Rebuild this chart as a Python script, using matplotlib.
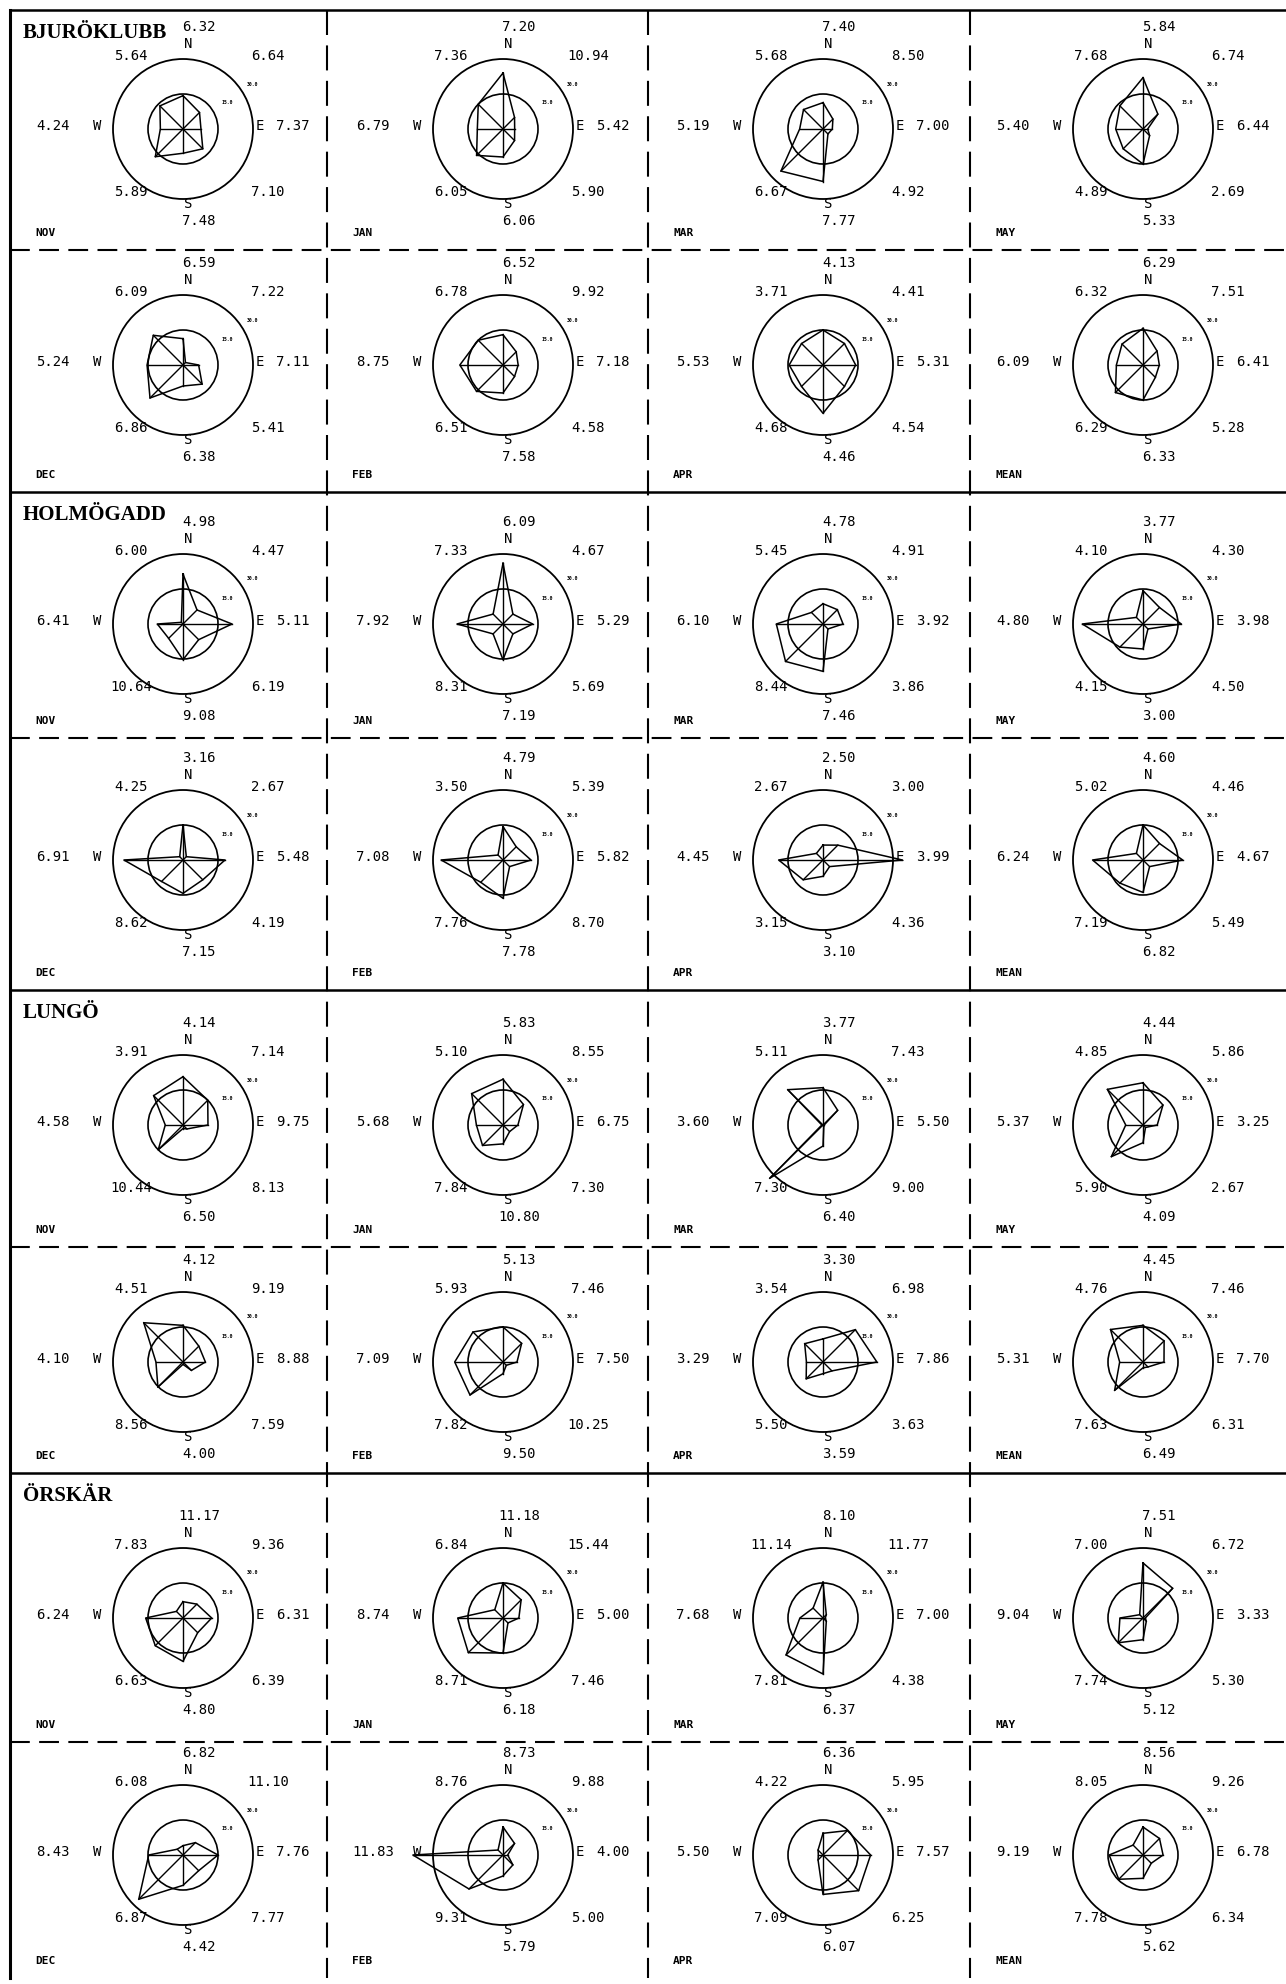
import matplotlib.pyplot as plt
from matplotlib.patches import Circle
import numpy as np

# direction order for every list below: N, NE, E, SE, S, SW, W, NW
# cell order: NOV, JAN, MAR, MAY, DEC, FEB, APR, MEAN
months = ['NOV', 'JAN', 'MAR', 'MAY', 'DEC', 'FEB', 'APR', 'MEAN']
stations = ['BJURÖKLUBB', 'HOLMÖGADD', 'LUNGÖ', 'ÖRSKÄR']

# frequency (%) per direction
bj_freq = [[14.3, 10, 7.7, 12, 10.4, 16.8, 9.7, 14],
           [24, 7, 5, 7, 12, 16, 11, 15],
           [11.3, 6, 4, 3, 22.5, 25.5, 10, 11.8],
           [22, 9, 2, 4, 15, 12, 11.7, 14],
           [11.3, 1.5, 6.7, 11.6, 9, 20, 15.4, 18],
           [13, 8, 6.5, 7, 12, 16, 18.5, 15],
           [15, 13, 14, 13, 20.7, 13, 14.5, 13],
           [15.7, 8.5, 7, 7.5, 15, 16.7, 11.4, 12.7]]
ho_freq = [[21.4, 8.5, 21, 9.5, 15.3, 8.7, 11, 1],
           [26, 6, 12.7, 6, 15.3, 6, 19.7, 6],
           [8.7, 8.7, 8.6, 3, 20.3, 22.7, 20, 7],
           [14.3, 10, 16.4, 3, 10.7, 14, 26, 4],
           [15, 2, 18, 12, 14.3, 13, 25.3, 2],
           [14.3, 8, 12, 4, 16.4, 13.5, 26.5, 3],
           [6.4, 9, 34, 4, 7, 12, 19, 4],
           [15, 10, 17, 4, 13.9, 14, 21.6, 4]]
lu_freq = [[20.7, 15, 10.7, 2.4, 1.5, 15, 7.6, 17.8],
           [19.6, 12.4, 6.4, 4, 8.1, 12.4, 11.4, 19],
           [16, 8.9, 0.5, 0.5, 9, 32.3, 0.5, 21.4],
           [18.1, 12.1, 6.1, 1.5, 7.6, 19.2, 7.4, 21.6],
           [15.7, 9.6, 9.6, 5.1, 1, 15.2, 11.6, 23.8],
           [15, 11.3, 6, 2, 5, 20, 20.7, 18.2],
           [9.9, 19.6, 23.1, 5.4, 5, 10.2, 7.1, 11.1],
           [15.7, 12.8, 9, 3, 2.5, 17.2, 10, 19.7]]
or_freq = [[7, 8.4, 12.3, 8.9, 18.6, 16.8, 16, 4],
           [15, 11, 6.8, 3, 15, 21, 19.4, 5],
           [15.3, 2, 1, 2, 24, 22.4, 9.9, 6],
           [23.6, 18, 1, 2, 9.3, 15, 9.9, 2],
           [4, 7.5, 15, 9.5, 13, 26.8, 14.7, 3.5],
           [12, 7, 2, 6, 9, 20.6, 38.6, 3],
           [9.3, 14.8, 20.4, 21.6, 16.9, 3, 2, 3],
           [12, 10, 8.6, 5, 10, 14.7, 14.5, 6]]

# mean wind speed per direction
bj_speed = [[6.32, 6.64, 7.37, 7.10, 7.48, 5.89, 4.24, 5.64],
            [7.20, 10.94, 5.42, 5.90, 6.06, 6.05, 6.79, 7.36],
            [7.40, 8.50, 7.00, 4.92, 7.77, 6.67, 5.19, 5.68],
            [5.84, 6.74, 6.44, 2.69, 5.33, 4.89, 5.40, 7.68],
            [6.59, 7.22, 7.11, 5.41, 6.38, 6.86, 5.24, 6.09],
            [6.52, 9.92, 7.18, 4.58, 7.58, 6.51, 8.75, 6.78],
            [4.13, 4.41, 5.31, 4.54, 4.46, 4.68, 5.53, 3.71],
            [6.29, 7.51, 6.41, 5.28, 6.33, 6.29, 6.09, 6.32]]
ho_speed = [[4.98, 4.47, 5.11, 6.19, 9.08, 10.64, 6.41, 6.00],
            [6.09, 4.67, 5.29, 5.69, 7.19, 8.31, 7.92, 7.33],
            [4.78, 4.91, 3.92, 3.86, 7.46, 8.44, 6.10, 5.45],
            [3.77, 4.30, 3.98, 4.50, 3.00, 4.15, 4.80, 4.10],
            [3.16, 2.67, 5.48, 4.19, 7.15, 8.62, 6.91, 4.25],
            [4.79, 5.39, 5.82, 8.70, 7.78, 7.76, 7.08, 3.50],
            [2.50, 3.00, 3.99, 4.36, 3.10, 3.15, 4.45, 2.67],
            [4.60, 4.46, 4.67, 5.49, 6.82, 7.19, 6.24, 5.02]]
lu_speed = [[4.14, 7.14, 9.75, 8.13, 6.50, 10.44, 4.58, 3.91],
            [5.83, 8.55, 6.75, 7.30, 10.80, 7.84, 5.68, 5.10],
            [3.77, 7.43, 5.50, 9.00, 6.40, 7.30, 3.60, 5.11],
            [4.44, 5.86, 3.25, 2.67, 4.09, 5.90, 5.37, 4.85],
            [4.12, 9.19, 8.88, 7.59, 4.00, 8.56, 4.10, 4.51],
            [5.13, 7.46, 7.50, 10.25, 9.50, 7.82, 7.09, 5.93],
            [3.30, 6.98, 7.86, 3.63, 3.59, 5.50, 3.29, 3.54],
            [4.45, 7.46, 7.70, 6.31, 6.49, 7.63, 5.31, 4.76]]
or_speed = [[11.17, 9.36, 6.31, 6.39, 4.80, 6.63, 6.24, 7.83],
            [11.18, 15.44, 5.00, 7.46, 6.18, 8.71, 8.74, 6.84],
            [8.10, 11.77, 7.00, 4.38, 6.37, 7.81, 7.68, 11.14],
            [7.51, 6.72, 3.33, 5.30, 5.12, 7.74, 9.04, 7.00],
            [6.82, 11.10, 7.76, 7.77, 4.42, 6.87, 8.43, 6.08],
            [8.73, 9.88, 4.00, 5.00, 5.79, 9.31, 11.83, 8.76],
            [6.36, 5.95, 7.57, 6.25, 6.07, 7.09, 5.50, 4.22],
            [8.56, 9.26, 6.78, 6.34, 5.62, 7.78, 9.19, 8.05]]

all_freq = [bj_freq, ho_freq, lu_freq, or_freq]
all_speed = [bj_speed, ho_speed, lu_speed, or_speed]

# page layout (pixels)
W, H = 1286, 1984
col_edges = [10, 327, 648, 970, 1286]
row_edges = [10, 250, 492, 738, 990, 1247, 1473, 1742, 1978]
cx_list = [183, 503, 823, 1143]
cy_list = [129, 365, 624, 860, 1125, 1362, 1618, 1855]
k = 70 / 30.0  # pixels per percent

mono = 'DejaVu Sans Mono'

fig = plt.figure(figsize=(W / 100, H / 100), dpi=100)
bg = fig.add_axes([0, 0, 1, 1])
bg.set_xlim(0, W)
bg.set_ylim(H, 0)
bg.axis('off')

dash = (0, (9.5, 4.5))
for i in range(0, 8, 2):
    bg.plot([col_edges[0], W], [row_edges[i], row_edges[i]], color='black', lw=1.8)
for i in range(1, 8, 2):
    bg.plot([col_edges[0], W], [row_edges[i], row_edges[i]], color='black', lw=1.5, linestyle=dash)
bg.plot([col_edges[0], col_edges[0]], [row_edges[0], row_edges[-1]], color='black', lw=2.2)
for x in col_edges[1:4]:
    bg.plot([x, x], [row_edges[0], row_edges[-1]], color='black', lw=1.5, linestyle=(0, (12, 5)))

theta = np.deg2rad(np.arange(8) * 45)


def u(px):
    return px / k


for s in range(4):
    for m in range(8):
        r = s * 2 + m // 4
        c = m % 4
        x0, x1 = col_edges[c], col_edges[c + 1]
        y0, y1 = row_edges[r], row_edges[r + 1]
        cx, cy = cx_list[c], cy_list[r]
        ax = fig.add_axes([x0 / W, 1 - y1 / H, (x1 - x0) / W, (y1 - y0) / H])
        ax.set_xlim(u(x0 - cx), u(x1 - cx))
        ax.set_ylim(u(cy - y1), u(cy - y0))
        ax.axis('off')
        ax.patch.set_alpha(0)

        ax.add_patch(Circle((0, 0), 30, fill=False, lw=1.3, color='black'))
        ax.add_patch(Circle((0, 0), 15, fill=False, lw=1.2, color='black'))

        f = np.array(all_freq[s][m])
        px = f * np.sin(theta)
        py = f * np.cos(theta)
        for j in range(8):
            ax.plot([0, px[j]], [0, py[j]], color='black', lw=1.0)
        ax.plot(np.append(px, px[0]), np.append(py, py[0]), color='black', lw=1.1)

        ax.text(u(69), u(45), '30.0', fontsize=3.5, fontweight='bold', ha='center', va='center', family=mono)
        ax.text(u(44), u(26), '15.0', fontsize=3.5, fontweight='bold', ha='center', va='center', family=mono)

        sp = ['%.2f' % v for v in all_speed[s][m]]
        fs = 10
        ax.text(u(16), u(102), sp[0], fontsize=fs, ha='center', va='center', family=mono)
        ax.text(u(5), u(85), 'N', fontsize=fs, ha='center', va='center', family=mono)
        ax.text(u(85), u(73), sp[1], fontsize=fs, ha='center', va='center', family=mono)
        ax.text(u(77), u(3), 'E', fontsize=fs, ha='center', va='center', family=mono)
        ax.text(u(110), u(3), sp[2], fontsize=fs, ha='center', va='center', family=mono)
        ax.text(u(85), u(-63), sp[3], fontsize=fs, ha='center', va='center', family=mono)
        ax.text(u(5), u(-75), 'S', fontsize=fs, ha='center', va='center', family=mono)
        ax.text(u(16), u(-92), sp[4], fontsize=fs, ha='center', va='center', family=mono)
        ax.text(u(-52), u(-63), sp[5], fontsize=fs, ha='center', va='center', family=mono)
        ax.text(u(-86), u(3), 'W', fontsize=fs, ha='center', va='center', family=mono)
        ax.text(u(-130), u(3), sp[6], fontsize=fs, ha='center', va='center', family=mono)
        ax.text(u(-52), u(73), sp[7], fontsize=fs, ha='center', va='center', family=mono)

        ax.annotate(months[m], xy=(0, 0), xycoords='axes fraction', xytext=(25 * 0.72, 12 * 0.72),
                    textcoords='offset points', fontsize=8, fontweight='bold', family=mono,
                    ha='left', va='bottom')
        if m == 0:
            ax.annotate(stations[s], xy=(0, 1), xycoords='axes fraction', xytext=(13 * 0.72, -23 * 0.72),
                        textcoords='offset points', fontsize=15, fontweight='bold',
                        family='Liberation Serif', ha='left', va='center')

fig.savefig('out.png', dpi=100, facecolor='white')
